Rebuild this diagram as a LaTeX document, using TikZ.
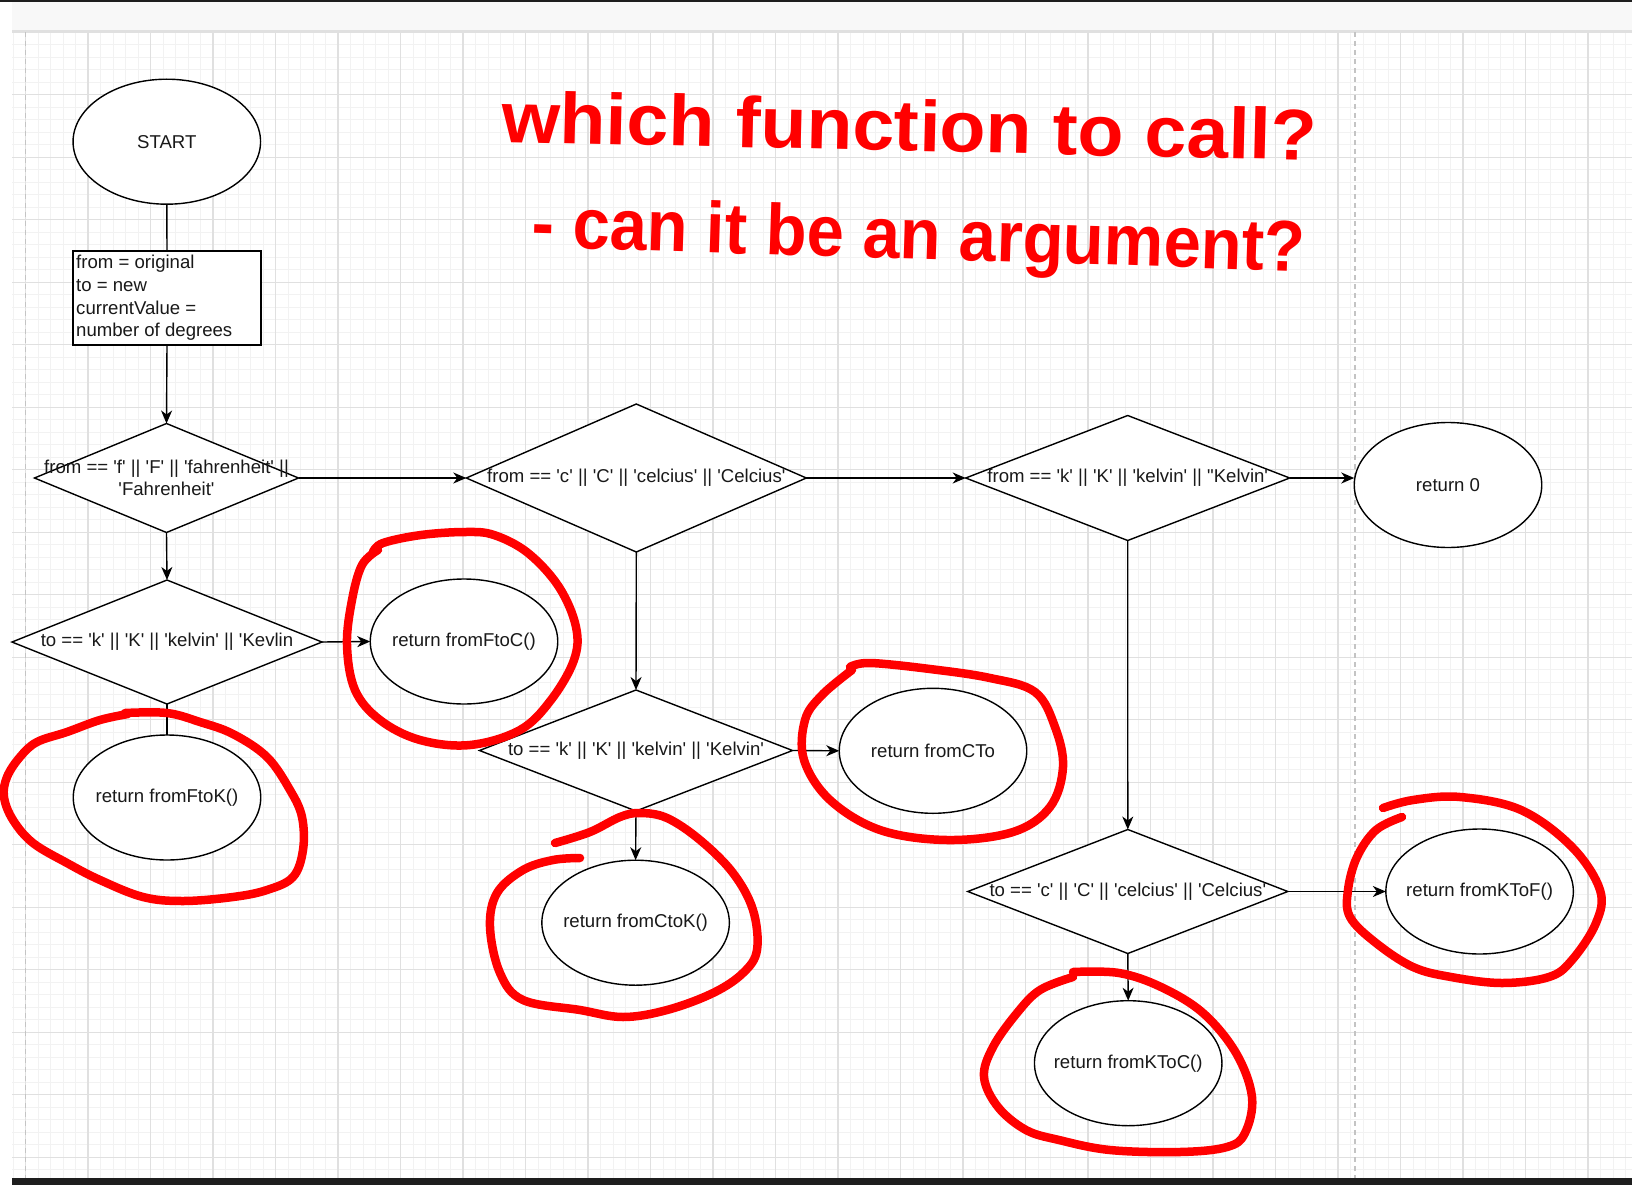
\documentclass[tikz,border=0pt]{standalone}
\usepackage{fontspec}
\usepackage{graphicx}
\newfontfamily\dfont{Liberation Sans}[Ligatures=TeXOff]
\usetikzlibrary{shapes.geometric, arrows.meta}
\definecolor{gminor}{HTML}{F2F2F2}
\definecolor{gmajor}{HTML}{E0E0E0}
\definecolor{gdash}{HTML}{C4C4C4}
\definecolor{band}{HTML}{F8F8F8}
\definecolor{darkbar}{HTML}{1E1E1E}
\definecolor{pen}{HTML}{FF0000}
\begin{document}
\begin{tikzpicture}[x=1pt,y=-1pt,
 shp/.style={draw=black, fill=white, line width=1.4pt, inner sep=0pt, outer sep=0pt},
 ell/.style={shp, ellipse, minimum width=187.5pt, minimum height=125pt},
 dia/.style={shp, diamond},
 txt/.style={font=\dfont\fontsize{18.6}{22.6}\selectfont, inner sep=0pt, align=center, text=black!90},
 conn/.style={line width=1.4pt, draw=black},
 arr/.style={conn, -{Stealth[length=13pt,width=11pt,inset=4pt]}},
 redloop/.style={draw=pen, line width=8.5pt, line cap=round, line join=round},
 titletext/.style={font=\dfont\bfseries\fontsize{72}{80}\selectfont, text=pen, inner sep=0pt}
]
\useasboundingbox (0,0) rectangle (1632,1185);
\fill[white] (0,0) rectangle (1632,1185);
% grid
\foreach \i in {0,...,129}{\draw[gminor, line width=1pt] ({13+12.5*\i},32) -- ({13+12.5*\i},1178);}
\foreach \j in {0,...,91}{\draw[gminor, line width=1pt] (12,{32.2+12.5*\j}) -- (1632,{32.2+12.5*\j});}
\foreach \i in {0,...,25}{\draw[gmajor, line width=1.2pt] ({25.5+62.5*\i},32) -- ({25.5+62.5*\i},1178);}
\foreach \j in {0,...,18}{\draw[gmajor, line width=1.2pt] (12,{32.2+62.5*\j}) -- (1632,{32.2+62.5*\j});}
\draw[gdash, line width=1.5pt, dash pattern=on 5pt off 4pt] (25.5,32) -- (25.5,1178);
\draw[gdash, line width=1.5pt, dash pattern=on 5pt off 4pt] (1355,32) -- (1355,1178);
% window chrome
\fill[band] (12,2) rectangle (1632,30.5);
\fill[gmajor] (12,30.5) rectangle (1632,32);
\fill[darkbar] (0,0) rectangle (1632,2.2);
\fill[darkbar] (12,1178) rectangle (1632,1185);

% nodes
\node[ell] (start) at (166.8,141.7) {};
\node[txt] (start-t) at (start) {START};
\node[shp, rectangle, minimum width=188pt, minimum height=94pt] (init) at (167,298) {};
\node[txt, align=left, anchor=west] (init-t) at (76,298) {from = original\\to = new\\currentValue =\\number of degrees};

\node[dia, minimum width=264pt, minimum height=109pt] (d1) at (166.5,478) {};
\node[txt] (d1-t) at (d1) {from == 'f' || 'F' || 'fahrenheit' ||\\'Fahrenheit'};
\node[dia, minimum width=310pt, minimum height=124pt] (d1b) at (167,642) {};
\node[txt] (d1b-t) at (d1b) {to == 'k' || 'K' || 'kelvin' || 'Kevlin};
\node[ell] (ftoc) at (464,641.5) {};
\node[txt] (ftoc-t) at (ftoc) {return fromFtoC()};
\node[ell] (ftok) at (167,797.5) {};
\node[txt] (ftok-t) at (ftok) {return fromFtoK()};

\node[dia, minimum width=340pt, minimum height=148pt] (d2) at (636.3,478) {};
\node[txt] (d2-t) at (d2) {from == 'c' || 'C' || 'celcius' || 'Celcius'};
\node[dia, minimum width=313pt, minimum height=121pt] (d2b) at (636,750.5) {};
\node[txt] (d2b-t) at (d2b) {to == 'k' || 'K' || 'kelvin' || 'Kelvin'};
\node[ell] (cto) at (933,750.8) {};
\node[txt] (cto-t) at (cto) {return fromCTo};
\node[ell] (ctok) at (635.6,922.7) {};
\node[txt] (ctok-t) at (ctok) {return fromCtoK()};

\node[dia, minimum width=324pt, minimum height=125pt] (d3) at (1127.7,478) {};
\node[txt] (d3-t) at (d3) {from == 'k' || 'K' || 'kelvin' || "Kelvin'};
\node[ell] (r0) at (1448,485) {};
\node[txt] (r0-t) at (r0) {return 0};
\node[dia, minimum width=320pt, minimum height=124pt] (d3b) at (1127.8,891.5) {};
\node[txt] (d3b-t) at (d3b) {to == 'c' || 'C' || 'celcius' || 'Celcius'};
\node[ell] (ktof) at (1479.6,891.5) {};
\node[txt] (ktof-t) at (ktof) {return fromKToF()};
\node[ell] (ktoc) at (1128.2,1063.2) {};
\node[txt] (ktoc-t) at (ktoc) {return fromKToC()};

% connectors
\draw[conn] (start.south) -- (init.north);
\draw[arr] (init.south) -- (d1.north);
\draw[arr] (d1.east) -- (d2.west);
\draw[arr] (d2.east) -- (d3.west);
\draw[arr] (d3.east) -- (d3.east -| r0.west);
\draw[arr] (d1.south) -- (d1b.north);
\draw[arr] (d1b.east) -- (ftoc.west);
\draw[conn] (d1b.south) -- (ftok.north);
\draw[arr] (d2.south) -- (d2b.north);
\draw[arr] (d2b.east) -- (cto.west);
\draw[arr] (d2b.south) -- (ctok.north);
\draw[arr] (d3.south) -- (d3b.north);
\draw[arr] (d3b.east) -- (ktof.west);
\draw[arr] (d3b.south) -- (ktoc.north);

% red annotations
\draw[redloop] plot[smooth, tension=0.6] coordinates {(125,713) (167,713) (200,722) (233,734) (267,757) (290,790) (302,817) (303,850) (293,877) (267,890) (233,897) (183,901) (143,897) (100,880) (67,863) (33,843) (13,820) (4,797) (7,777) (20,757) (37,742) (67,732) (100,720) (128,714)};
\draw[redloop] plot[smooth, tension=0.6] coordinates {(373,552) (383,543) (421,535) (465,532) (494,535) (528,553) (559,587) (576,627) (574,660) (551,700) (520,730) (470,745) (420,740) (380,720) (355,690) (347,645) (352,600) (362,565) (378,550)};
\draw[redloop] plot[smooth, tension=0.6] coordinates {(850,667) (870,663) (930,669) (990,678) (1035,692) (1055,727) (1063,767) (1050,807) (1013,832) (947,840) (880,830) (830,800) (804,760) (805,720) (822,695) (852,670)};
\draw[redloop] plot[smooth, tension=0.6] coordinates {(555,843) (590,832) (620,817) (640,813) (667,818) (700,840) (733,873) (753,910) (757,950) (743,973) (713,993) (667,1010) (623,1017) (580,1010) (523,1000) (500,973) (490,927) (497,893) (523,870) (553,860) (580,858)};
\draw[redloop] plot[smooth, tension=0.6] coordinates {(1383,808) (1413,800) (1460,797) (1521,810) (1572,847) (1600,890) (1596,923) (1572,960) (1549,977) (1502,983) (1451,977) (1413,967) (1376,943) (1350,917) (1348,890) (1357,857) (1376,830) (1402,817)};
\draw[redloop] plot[smooth, tension=0.6] coordinates {(1073,972) (1119,973) (1161,987) (1203,1013) (1236,1053) (1252,1097) (1245,1133) (1227,1147) (1180,1152) (1110,1150) (1059,1140) (1026,1130) (998,1107) (984,1077) (993,1047) (1017,1013) (1040,990) (1073,977)};

\node[titletext, anchor=base west, rotate=-1.3] (q1) at (501,142) {\scalebox{1.045}[1]{which function to call?}};
\node[titletext, anchor=base west, rotate=-1.8] (q2) at (531,247) {\scalebox{0.93}[1]{- can it be an argument?}};
\end{tikzpicture}
\end{document}
